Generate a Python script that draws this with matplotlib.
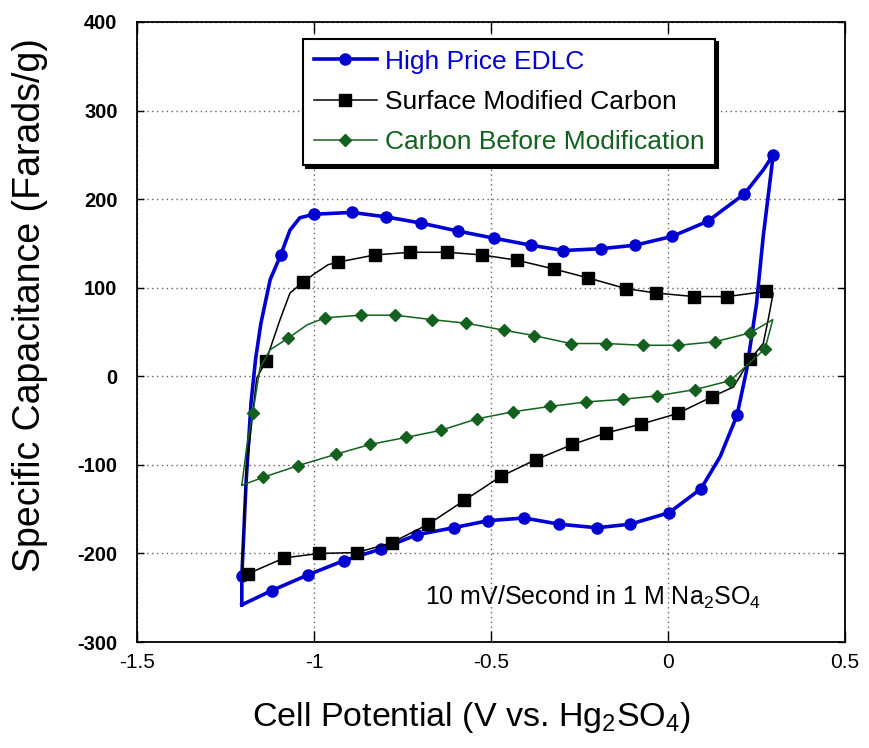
import matplotlib
matplotlib.use("Agg")
import matplotlib.pyplot as plt
from matplotlib.ticker import FuncFormatter

plt.rcParams['font.family'] = ['Liberation Sans', 'DejaVu Sans']
plt.rcParams['mathtext.default'] = 'regular'
plt.rcParams['axes.unicode_minus'] = False

# Cyclic voltammograms, each trace is one closed loop (anodic sweep, then cathodic)
edlc_v = [-1.204, -1.204, -1.192, -1.178, -1.165, -1.150, -1.124, -1.094, -1.068, -1.040,
          -0.999, -0.893, -0.797, -0.698, -0.594, -0.493, -0.387, -0.296, -0.190, -0.093,
          0.012, 0.112, 0.216, 0.269, 0.297, 0.292, 0.269, 0.250, 0.222, 0.195,
          0.147, 0.093, 0.003, -0.107, -0.201, -0.307, -0.406, -0.508, -0.606, -0.710,
          -0.811, -0.915, -1.016, -1.120, -1.204]
edlc_c = [-258, -226, -120, -30, 20, 60, 109, 137, 165, 179,
          183, 185, 180, 173, 164, 156, 148, 142, 144, 148,
          158, 175, 206, 233, 250, 233, 158, 82, 7, -44,
          -91, -127, -154, -167, -171, -167, -160, -163, -171, -179,
          -195, -208, -224, -242, -258]
edlc_bends = [0, 2, 3, 4, 5, 6, 8, 9, 23, 25, 26, 27, 28, 30, 44]

smc_v = [-1.204, -1.192, -1.162, -1.136, -1.096, -1.068, -1.032, -0.998, -0.960, -0.931,
         -0.828, -0.729, -0.623, -0.525, -0.426, -0.321, -0.225, -0.119, -0.034, 0.074,
         0.168, 0.278, 0.297, 0.283, 0.269, 0.232, 0.203, 0.185, 0.125, 0.027,
         -0.076, -0.175, -0.270, -0.373, -0.472, -0.575, -0.677, -0.781, -0.879, -0.985,
         -1.084, -1.187, -1.204]
smc_c = [-221, -110, -2, 17, 64, 94, 106, 116, 126, 129,
         137, 140, 140, 137, 131, 121, 111, 99, 94, 90,
         90, 96, 94, 64, 37, 19, 0, -12, -23, -42,
         -54, -64, -77, -94, -113, -140, -167, -188, -199, -200,
         -205, -223, -221]
smc_bends = [0, 1, 2, 4, 5, 7, 8, 22, 23, 24, 26, 27, 42]

raw_v = [-1.204, -1.190, -1.173, -1.153, -1.124, -1.073, -1.020, -0.969, -0.868, -0.770,
         -0.668, -0.571, -0.463, -0.379, -0.275, -0.175, -0.071, 0.027, 0.133, 0.232,
         0.296, 0.274, 0.175, 0.076, -0.030, -0.128, -0.232, -0.333, -0.437, -0.539,
         -0.642, -0.740, -0.842, -0.938, -1.046, -1.143, -1.204]
raw_c = [-123, -79, -42, 9, 30, 43, 58, 66, 69, 69,
         64, 60, 52, 46, 37, 37, 35, 35, 39, 49,
         64, 31, -5, -15, -22, -26, -29, -34, -40, -48,
         -61, -69, -77, -88, -101, -114, -123]
raw_bends = [0, 1, 3, 4, 6, 20, 36]

x_ticks = [-1.5, -1, -0.5, 0, 0.5]
y_ticks = [-300, -200, -100, 0, 100, 200, 300, 400]


def marks(n, bends):
    return [i for i in range(n) if i not in bends]


fig = plt.figure(figsize=(8.69, 7.48), dpi=100)
ax = fig.add_axes([0.1577, 0.1417, 0.8147, 0.8289])

ax.plot(edlc_v, edlc_c, color='#0000d0', lw=2.6, marker='o', ms=8,
        markevery=marks(len(edlc_v), edlc_bends), label='High Price EDLC', zorder=3)
ax.plot(smc_v, smc_c, color='black', lw=1.1, marker='s', ms=8.5,
        markevery=marks(len(smc_v), smc_bends), label='Surface Modified Carbon', zorder=4)
ax.plot(raw_v, raw_c, color='#13601f', lw=1.1, marker='D', ms=6.5,
        markevery=marks(len(raw_v), raw_bends), label='Carbon Before Modification', zorder=5)

ax.set_xlim(-1.5, 0.5)
ax.set_ylim(-300, 400)
ax.set_xticks(x_ticks)
ax.set_yticks(y_ticks)
ax.xaxis.set_major_formatter(FuncFormatter(lambda v, p: f"{v:g}"))
ax.yaxis.set_major_formatter(FuncFormatter(lambda v, p: f"{v:g}"))

ax.grid(True, color='#7a5c5c', linestyle=(0, (1, 2.5)), linewidth=1.0, zorder=1)
ax.tick_params(axis='x', direction='in', top=True, length=8, width=1, pad=8, labelsize=15)
ax.tick_params(axis='y', direction='in', right=True, length=5, width=1, pad=14, labelsize=14.5)
for lab in ax.get_yticklabels():
    lab.set_fontweight('bold')
for sp in ax.spines.values():
    sp.set_linewidth(1.3)

ax.set_xlabel(r"Cell Potential (V vs. Hg$_2$SO$_4$)", fontsize=24.5)
ax.xaxis.set_label_coords(0.473, -0.093)
ax.set_ylabel("Specific Capacitance (Farads/g)", fontsize=27)
ax.yaxis.set_label_coords(-0.126, 0.544)

ax.text(-0.686, -258, r"10 mV/Second in 1 M Na$_2$SO$_4$", fontsize=18,
        ha='left', va='baseline')

leg = ax.legend(loc='upper left', bbox_to_anchor=(0.2345, 0.9726), borderaxespad=0,
                fontsize=19, labelcolor='linecolor', fancybox=False, numpoints=1,
                handlelength=2.4, handletextpad=0.3, labelspacing=0.62, borderpad=0.4,
                framealpha=1, edgecolor='black',
                shadow={'color': 'black', 'alpha': 1})
leg.get_frame().set_linewidth(1.5)
leg.set_zorder(6)

fig.savefig("out.png", dpi=100)
